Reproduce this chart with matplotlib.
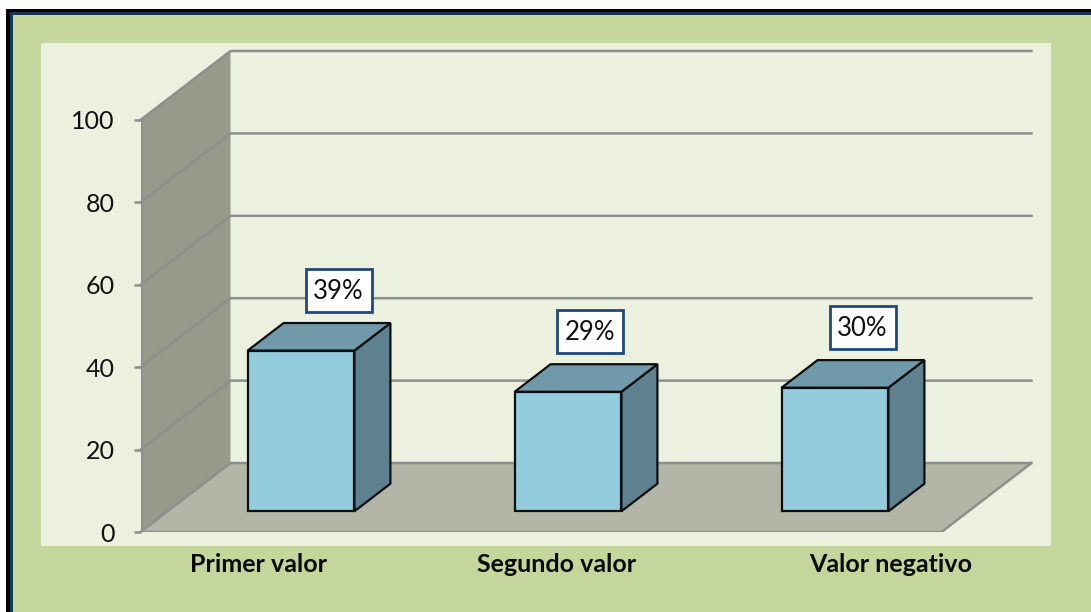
import matplotlib
matplotlib.use("Agg")
import matplotlib.pyplot as plt
from matplotlib.patches import Polygon, Rectangle

categories = ["Primer valor", "Segundo valor", "Valor negativo"]
values = [39, 29, 30]
bar_labels = ["39%", "29%", "30%"]
y_ticks = [0, 20, 40, 60, 80, 100]

W, H = 1091, 612
plt.rcParams['font.family'] = ['Lato', 'DejaVu Sans']

# 3d look: a point at depth d (0 front, 1 back) is shifted by d * (DX, DY)
PX_X = 267.0
PX_Y = 4.12
DX = 90 / PX_X
DY = 69 / PX_Y
BAR_W = 0.4
D_FRONT = 0.3
D_BACK = 0.7


def shift(x, y, d):
    return (x + d * DX, y + d * DY)


fig = plt.figure(figsize=(W / 100, H / 100), dpi=100, facecolor="white")

# marco y fondo (el marco sale por la derecha y por abajo)
bg = fig.add_axes([0, 0, 1, 1])
bg.set_xlim(0, W)
bg.set_ylim(H, 0)
bg.axis("off")
bg.add_patch(Rectangle((6, 9), W, H, fc="black", ec="none"))
bg.add_patch(Rectangle((10, 12), W, H, fc="#17365D", ec="none"))
bg.add_patch(Rectangle((13, 15), W, H, fc="#C4D69B", ec="none"))
bg.add_patch(Rectangle((41, 43), 1010, 503, fc="#ECF0DF", ec="none"))

# ejes alineados con el suelo del grafico
ax = fig.add_axes([140.5 / W, (H - 532) / H, 891.5 / W, 481 / H])
ax.patch.set_alpha(0)
ax.set_xlim(-0.5, -0.5 + 891.5 / PX_X)
ax.set_ylim(0, 481 / PX_Y)
for s in ax.spines.values():
    s.set_visible(False)

x0, x1 = -0.5, 2.5
ymax = max(y_ticks)
grid = "#8E8E8E"

# pared lateral y suelo
ax.add_patch(Polygon([shift(x0, 0, 0), shift(x0, 0, 1), shift(x0, ymax, 1), shift(x0, ymax, 0)],
                     fc="#97998A", ec="none", zorder=1))
ax.add_patch(Polygon([shift(x0, 0, 0), shift(x1, 0, 0), shift(x1, 0, 1), shift(x0, 0, 1)],
                     fc="#B3B5A6", ec="none", zorder=1))

# lineas de rejilla
for t in y_ticks:
    a, b, c = shift(x0, t, 0), shift(x0, t, 1), shift(x1, t, 1)
    ax.plot([a[0], b[0], c[0]], [a[1], b[1], c[1]], color=grid, lw=1.8, zorder=2,
            solid_joinstyle="miter", clip_on=False)
a, b = shift(x0, 0, 0), shift(x1, 0, 0)
c = shift(x1, 0, 1)
ax.plot([a[0], b[0], c[0]], [a[1], b[1], c[1]], color=grid, lw=1.8, zorder=2)
ax.plot([x0, x0], [0, ymax], color=grid, lw=1.8, zorder=2)

# barras
for i, v in enumerate(values):
    l, r = i - BAR_W / 2, i + BAR_W / 2
    edge = dict(ec="#0B0F12", lw=1.6, joinstyle="miter", zorder=4)
    ax.add_patch(Polygon([shift(r, 0, D_FRONT), shift(r, 0, D_BACK), shift(r, v, D_BACK), shift(r, v, D_FRONT)],
                         fc="#5E818F", **edge))
    ax.add_patch(Polygon([shift(l, v, D_FRONT), shift(r, v, D_FRONT), shift(r, v, D_BACK), shift(l, v, D_BACK)],
                         fc="#7099A9", **edge))
    ax.add_patch(Polygon([shift(l, 0, D_FRONT), shift(r, 0, D_FRONT), shift(r, v, D_FRONT), shift(l, v, D_FRONT)],
                         fc="#93CDDD", **edge))

ax.set_xticks([])
ax.set_yticks(y_ticks)
ax.tick_params(axis="y", length=5, width=1.8, color=grid, pad=13.7, labelsize=18, labelcolor="#111111")

# capa de arriba en pixeles, para las cajas y las categorias
fg = fig.add_axes([0, 0, 1, 1])
fg.set_xlim(0, W)
fg.set_ylim(H, 0)
fg.axis("off")

# las cajas estan movidas a mano respecto a cada barra
box_dx = [37.5, 21.5, 27.5]
box_dy = [-60, -60, -60]
for i, v in enumerate(values):
    px = ax.transData.transform(shift(i, v, D_FRONT))
    cx, cy = fg.transData.inverted().transform(px)
    cx += box_dx[i]
    cy += box_dy[i]
    fg.add_patch(Rectangle((cx - 33, cy - 21.5), 66, 43, fc="white", ec="#1F497D", lw=2))
    fg.text(cx, cy + 1, bar_labels[i], ha="center", va="center", fontsize=18.5, color="#111111")

# etiquetas de categoria, van sobre el fondo verde
label_x = [259, 557, 891]
for name, lx in zip(categories, label_x):
    fg.text(lx, 565, name, ha="center", va="center", fontsize=18, fontweight="bold", color="#0A0A0A")

fig.savefig("out.png", dpi=100, facecolor="white")
